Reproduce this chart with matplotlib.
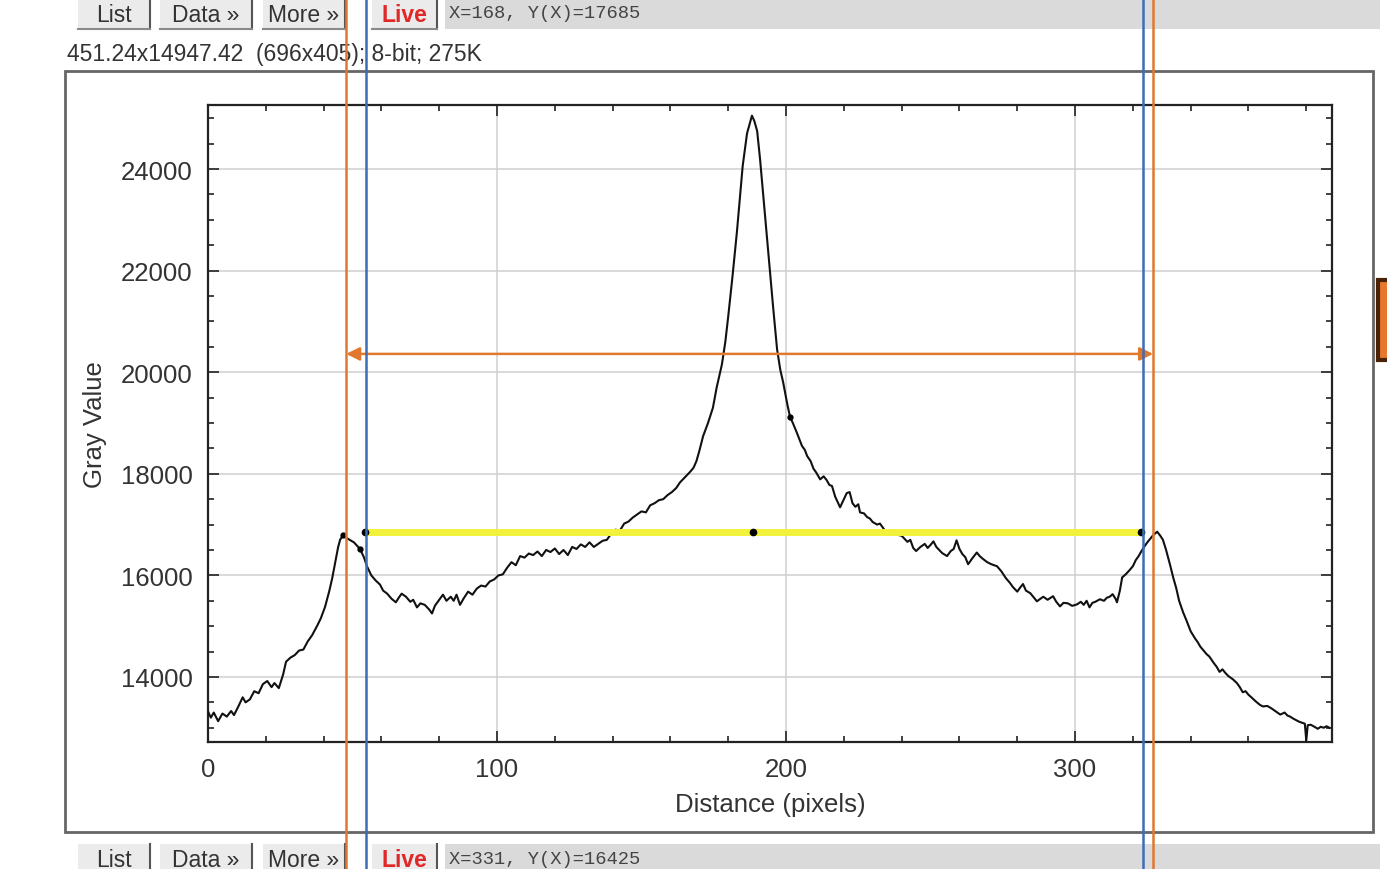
import matplotlib
matplotlib.use('Agg')
import matplotlib.pyplot as plt
import matplotlib.patches as patches
import matplotlib.lines as lines
import matplotlib.transforms as transforms
from matplotlib.ticker import MultipleLocator

W, H = 1387, 870

# profile: distance (pixels) / gray value, 10 per row
distance = [0, 1, 2, 3.5, 5, 6.5, 8, 9, 10.5, 12,
            13, 14.5, 16, 17.5, 19, 20.5, 22, 23, 24.5, 26,
            27, 28.5, 30, 31.5, 33, 34.5, 36, 37.7, 39, 40.5,
            42, 43, 44, 45, 45.7, 46.7, 48.4, 50.5, 52.6, 54,
            55, 56.5, 58, 59.5, 60.6, 62, 63.5, 65, 66, 67,
            68.5, 70, 71, 72.3, 73.5, 75, 76.5, 77.5, 78.5, 80,
            81.3, 82.5, 84, 85, 86, 87.2, 88.5, 90, 91.5, 93,
            94.5, 96, 97.5, 99, 100.5, 102, 103.5, 105, 106.5, 108,
            109.5, 111, 112.5, 114, 115.5, 117, 118.5, 120, 121.5, 123,
            124.5, 126, 127.5, 129, 130.5, 132, 133.5, 135, 136.5, 138,
            139.5, 141, 142.5, 144, 145.5, 147, 148.5, 150, 151.5, 153,
            154.5, 156, 157.5, 159, 160.5, 162, 163.3, 164.5, 165.5, 167,
            168, 169, 170, 171.3, 173, 174.7, 176, 177.8, 179, 180,
            181.5, 183, 184, 185, 186.5, 188.2, 189, 190, 191, 191.7,
            193, 193.8, 195.5, 196.9, 198, 199, 200.5, 201.4, 202.5, 203.8,
            205.5, 206.5, 207.3, 208.5, 209.5, 210.5, 211.8, 213, 214, 215,
            215.9, 217, 218.7, 220, 221, 222, 223, 224, 225, 225.6,
            227, 228, 229, 230, 231.5, 232.5, 234, 235, 236, 237.5,
            238.5, 240, 241, 242, 243, 244, 245, 246.5, 248, 249,
            250, 251, 252, 253, 254, 255.7, 257, 258, 259, 260,
            261, 262, 263, 264.5, 266, 267, 268, 269.6, 271, 273,
            274.5, 276, 277.5, 278.5, 280, 281, 282, 283, 284.5, 285.5,
            286.8, 288, 289, 290.5, 292.4, 293.5, 294.8, 296, 297.5, 299,
            300.7, 302, 303, 304, 305, 306, 307, 308.6, 310, 311,
            312, 313, 314, 314.5, 315.5, 316.3, 317.5, 318.5, 320, 321,
            322, 323, 324, 325, 326, 327, 328.4, 329.5, 330.4, 331.5,
            332.9, 334, 335, 336, 337.4, 338.5, 340, 341.5, 342.5, 343.3,
            344.5, 345.5, 346.5, 347.8, 349, 350, 351, 352, 353, 354.7,
            356, 357, 358, 359, 360, 361, 362.5, 364, 365, 366.5,
            368, 369.5, 371, 372.5, 373.5, 374.4, 375.5, 376.5, 377.5, 378.5,
            379.5, 380, 380.5, 381.5, 382.5, 384, 385, 386, 387, 388]
gray_value = [13320, 13200, 13300, 13130, 13280, 13220, 13330, 13250, 13420, 13600,
              13500, 13560, 13720, 13680, 13860, 13920, 13800, 13880, 13780, 14050,
              14300, 14380, 14430, 14520, 14540, 14700, 14820, 15000, 15150, 15380,
              15700, 15950, 16250, 16550, 16700, 16790, 16720, 16650, 16520, 16350,
              16180, 16000, 15900, 15820, 15700, 15640, 15540, 15470, 15560, 15640,
              15580, 15480, 15520, 15370, 15450, 15420, 15330, 15250, 15400, 15520,
              15620, 15500, 15580, 15500, 15620, 15420, 15550, 15680, 15620, 15740,
              15800, 15780, 15880, 15920, 16000, 16020, 16150, 16260, 16200, 16380,
              16350, 16430, 16400, 16470, 16380, 16500, 16460, 16530, 16420, 16500,
              16400, 16560, 16520, 16610, 16560, 16650, 16560, 16620, 16680, 16700,
              16820, 16900, 16880, 17020, 17060, 17140, 17200, 17260, 17240, 17380,
              17420, 17480, 17500, 17580, 17640, 17720, 17830, 17900, 17960, 18050,
              18120, 18250, 18450, 18740, 19000, 19300, 19700, 20150, 20600, 21100,
              21900, 22760, 23400, 24060, 24700, 25050, 24950, 24750, 24200, 23750,
              22900, 22400, 21300, 20450, 20050, 19800, 19350, 19120, 18980, 18800,
              18550, 18470, 18350, 18250, 18100, 18020, 17890, 17950, 17880, 17780,
              17760, 17550, 17340, 17500, 17620, 17640, 17420, 17350, 17400, 17240,
              17220, 17150, 17120, 17050, 17000, 17020, 16900, 16870, 16810, 16830,
              16800, 16780, 16720, 16660, 16700, 16540, 16480, 16560, 16620, 16540,
              16600, 16670, 16560, 16500, 16440, 16380, 16480, 16520, 16690, 16520,
              16420, 16360, 16220, 16340, 16450, 16380, 16330, 16260, 16220, 16180,
              16080, 15950, 15850, 15770, 15680, 15760, 15830, 15700, 15650, 15580,
              15490, 15540, 15580, 15520, 15590, 15480, 15390, 15460, 15450, 15400,
              15430, 15480, 15420, 15500, 15370, 15460, 15480, 15530, 15500, 15560,
              15580, 15630, 15540, 15470, 15700, 15960, 16020, 16080, 16180, 16300,
              16380, 16480, 16570, 16650, 16720, 16790, 16860, 16780, 16700, 16500,
              16200, 15950, 15750, 15500, 15270, 15120, 14900, 14760, 14680, 14600,
              14520, 14450, 14400, 14290, 14200, 14100, 14150, 14080, 14020, 13950,
              13880, 13800, 13700, 13720, 13650, 13600, 13520, 13450, 13420, 13430,
              13380, 13320, 13260, 13300, 13240, 13220, 13180, 13150, 13120, 13100,
              13080, 12750, 13050, 13060, 13030, 12980, 13020, 13000, 13030, 13000]

x_ticks = [0, 100, 200, 300]
y_ticks = [14000, 16000, 18000, 20000, 22000, 24000]

# overlay markers, in data units
orange_x = [47.8, 327.0]
blue_x = [54.7, 323.5]
arrow_y = 20360
level_x = [54.3, 188.6, 322.8]
level_y = 16850
curve_dots_x = [46.7, 52.6, 201.4]
curve_dots_y = [16790, 16520, 19120]

info_text = '451.24x14947.42  (696x405); 8-bit; 275K'
buttons = ['List', 'Data \u00bb', 'More \u00bb', 'Live']
top_status = 'X=168, Y(X)=17685'
bottom_status = 'X=331, Y(X)=16425'

FONT = 'Liberation Sans'


def fx(x):
    return x / W


def fy(y):
    return 1 - y / H


def toolbar(fig, y0, y1, status):
    """Draws the ImageJ plot window button row between pixel rows y0 and y1."""
    spans = [(78, 150), (160, 252), (263, 345), (372, 437)]
    for (a, b), label in zip(spans, buttons):
        fig.add_artist(patches.Rectangle((fx(a), fy(y1)), fx(b - a), (y1 - y0) / H,
                                         transform=fig.transFigure, facecolor='#ebebeb',
                                         edgecolor='none', zorder=1))
        # shadow on the right and bottom
        fig.add_artist(lines.Line2D([fx(b), fx(b)], [fy(y1), fy(y0)], color='#555555',
                                    lw=1.5, zorder=1))
        fig.add_artist(lines.Line2D([fx(a), fx(b)], [fy(y1), fy(y1)], color='#8a8a8a',
                                    lw=1.5, zorder=1))
        color = '#e02828' if label == 'Live' else '#333333'
        fig.text(fx((a + b) / 2), fy((y0 + y1) / 2 + 1), label, ha='center', va='center',
                 fontsize=16.5, color=color, family=FONT,
                 fontweight='bold' if label == 'Live' else 'normal', zorder=3)
    fig.add_artist(patches.Rectangle((fx(445), fy(y1)), fx(1380 - 445), (y1 - y0) / H,
                                     transform=fig.transFigure, facecolor='#dadada',
                                     edgecolor='none', zorder=1))
    fig.text(fx(449), fy((y0 + y1) / 2), status, ha='left', va='center', fontsize=13.5,
             color='#444444', family='Liberation Mono', zorder=3)


fig = plt.figure(figsize=(W / 100, H / 100), dpi=100)
fig.patch.set_facecolor('white')

# plot window frame
fig.add_artist(patches.Rectangle((fx(65), fy(833)), fx(1373 - 65), (833 - 72) / H,
                                 transform=fig.transFigure, facecolor='white',
                                 edgecolor='#666666', lw=2, zorder=-1))
fig.text(fx(67), fy(55), info_text, ha='left', va='center', fontsize=16.5,
         color='#333333', family=FONT)
toolbar(fig, -2, 30, top_status)
toolbar(fig, 845, 875, bottom_status)

# orange marker on the right border
fig.add_artist(patches.Rectangle((fx(1378), fy(361)), fx(14), 80 / H,
                                 transform=fig.transFigure, facecolor='#e8772e',
                                 edgecolor='#4a2208', lw=3, zorder=2))

ax = fig.add_axes([fx(208), fy(743), fx(1332 - 208), (743 - 106) / H])
ax.plot(distance, gray_value, color='#111111', lw=1.5, zorder=3)
ax.set_xlim(0, 388.9)
ax.set_ylim(12720, 25260)
ax.set_xticks(x_ticks)
ax.set_yticks(y_ticks)
ax.xaxis.set_minor_locator(MultipleLocator(20))
ax.yaxis.set_minor_locator(MultipleLocator(500))
ax.tick_params(which='both', direction='in', top=True, right=True, labeltop=False,
               labelright=False, color='#222222', width=1.2)
ax.tick_params(which='major', length=8)
ax.tick_params(which='minor', length=4.5)
ax.tick_params(axis='x', pad=11)
ax.tick_params(axis='y', pad=11)
for lbl in ax.get_xticklabels() + ax.get_yticklabels():
    lbl.set_family(FONT)
    lbl.set_fontsize(18.5)
    lbl.set_color('#333333')
ax.grid(True, which='major', color='#cfcfcf', lw=1.1)
ax.set_axisbelow(True)
for s in ax.spines.values():
    s.set_color('#222222')
    s.set_linewidth(1.6)
ax.set_xlabel('Distance (pixels)', fontsize=18.5, family=FONT, color='#333333', labelpad=8)
ax.set_ylabel('Gray Value', fontsize=18.5, family=FONT, color='#333333', labelpad=10)

# yellow level line with its handles
ax.plot([level_x[0], level_x[-1]], [level_y, level_y], color='#f2f23c', lw=5,
        solid_capstyle='butt', zorder=4)
ax.plot(level_x, [level_y] * len(level_x), 'o', color='black', ms=4.5, zorder=5)
ax.plot(curve_dots_x, curve_dots_y, 'o', color='black', ms=3.5, zorder=5)

# width arrow
ax.annotate('', xy=(orange_x[0], arrow_y), xytext=(orange_x[1], arrow_y),
            arrowprops=dict(arrowstyle='<|-|>', color='#e0782e', lw=1.8,
                            mutation_scale=20, shrinkA=0, shrinkB=0), zorder=6)

# vertical guides run over the whole screenshot
trans = transforms.blended_transform_factory(ax.transData, fig.transFigure)
for x in blue_x:
    fig.add_artist(lines.Line2D([x, x], [0, 1], transform=trans, color='#3d6cb8', lw=1.8,
                                zorder=6))
for x in orange_x:
    fig.add_artist(lines.Line2D([x, x], [0, 1], transform=trans, color='#e0782e', lw=1.8,
                                zorder=6))

fig.savefig('out.png', dpi=100)
